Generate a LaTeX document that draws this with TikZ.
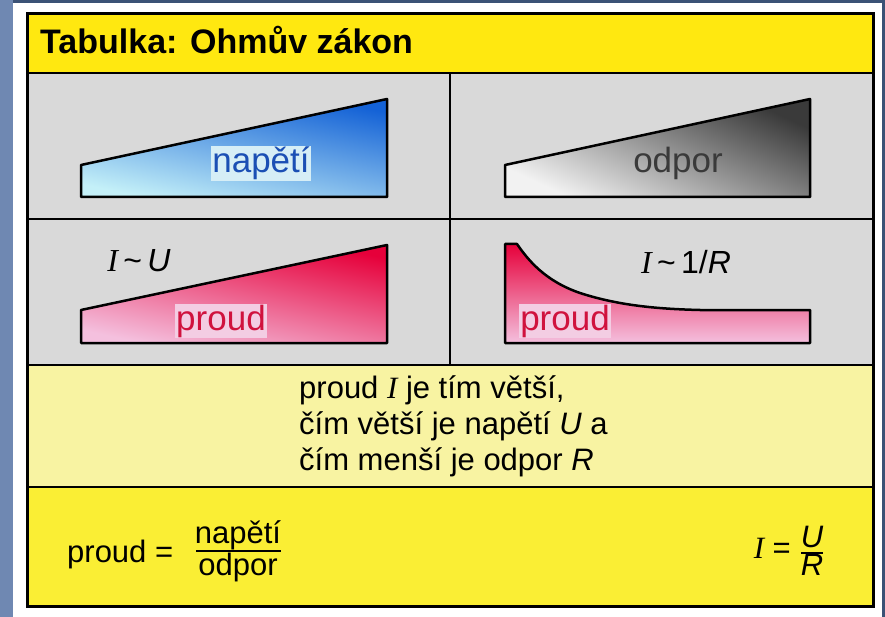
\documentclass[tikz,border=0pt]{standalone}
\usepackage{fontspec}
\setmainfont{Liberation Sans}
\newfontfamily\serifI{Liberation Serif}
\usetikzlibrary{positioning,calc}
\definecolor{PageBlue}{HTML}{6F88B2}
\definecolor{PageNavy}{HTML}{3B5276}
\definecolor{TitleYel}{HTML}{FFE810}
\definecolor{PaleYel}{HTML}{F8F3A2}
\definecolor{FormYel}{HTML}{FAEE34}
\definecolor{CellGray}{HTML}{D9D9D9}
\definecolor{NapDark}{HTML}{1462D6}
\definecolor{NapLight}{HTML}{C4F0F8}
\definecolor{NapText}{HTML}{1B4FB4}
\definecolor{NapPatch}{HTML}{D6EEF6}
\definecolor{OdpDark}{HTML}{3A3A3A}
\definecolor{OdpLight}{HTML}{F2F2F2}
\definecolor{ProDark}{HTML}{E6003A}
\definecolor{ProLight}{HTML}{F4C0DE}
\definecolor{ProText}{HTML}{D0123E}
\definecolor{ProPatch}{HTML}{F3CDE3}
\tikzset{every node/.style={inner sep=1pt},
 frame/.style={draw=black,line width=3pt},
 rule/.style={draw=black,line width=2.5pt},
 wedge/.style={draw=black,line width=2.5pt,line join=round},
 title/.style={font=\fontsize{34}{40}\bfseries\selectfont},
 body/.style={font=\fontsize{31}{37}\selectfont},
 tag/.style={font=\fontsize{35}{40}\selectfont},
 law/.style={font=\fontsize{32}{38}\selectfont},
 fracbar/.style={draw=black,line width=2pt}}
\newcommand{\cI}{{\serifI\itshape I}}
\begin{document}
\begin{tikzpicture}[x=1pt,y=-1pt]
% page
\useasboundingbox (0,0) rectangle (885,617);
\fill[white] (0,0) rectangle (885,617);
\fill[PageBlue] (0,0) rectangle (13,617);
\fill[PageNavy] (13,0) rectangle (885,3);
\fill[PageNavy] (882,0) rectangle (885,617);
% cells
\fill[TitleYel] (27,14) rectangle (873,73);
\fill[CellGray] (27,73) rectangle (873,365);
\fill[PaleYel] (27,365) rectangle (873,487);
\fill[FormYel] (27,487) rectangle (873,606);
\draw[rule] (27,73) -- (873,73);
\draw[rule] (27,219) -- (873,219);
\draw[rule] (27,365) -- (873,365);
\draw[rule] (27,487) -- (873,487);
\draw[rule] (450,73) -- (450,365);
\draw[frame] (27,14) rectangle (873,606);
\node[title,anchor=base west] (head) at (39,54) {Tabulka: Ohmův zákon};
% wedges
\draw[wedge,bottom color=NapLight,top color=NapDark,shading angle=-12]
 (81,197) -- (81,165) -- (387,99) -- (387,197) -- cycle;
\node[tag,text=NapText,fill=NapPatch,anchor=base] (napeti) at (261,173) {napětí};
\draw[wedge,bottom color=OdpLight,top color=OdpDark,shading angle=-25]
 (505,197) -- (505,165) -- (810,99) -- (810,197) -- cycle;
\node[tag,text=OdpDark,anchor=base] (odpor) at (678,173) {odpor};
\draw[wedge,bottom color=ProLight,top color=ProDark,shading angle=-12]
 (81,343) -- (81,310) -- (387,245) -- (387,343) -- cycle;
\node[tag,text=ProText,fill=ProPatch,anchor=base] (proudL) at (221,330) {proud};
\node[law,anchor=base] (propU) at (139,272) {\cI\,\textasciitilde\,{\itshape U}};
\draw[wedge,bottom color=ProLight,top color=ProDark]
 (505,343) -- (505,244) -- (517,244) .. controls (528,260) and (545,281) .. (580,293)
 .. controls (620,306) and (660,309) .. (700,310) -- (810,310) -- (810,343) -- cycle;
\node[tag,text=ProText,fill=ProPatch,anchor=base] (proudR) at (565,330) {proud};
\node[law,anchor=base] (propR) at (686,273) {\cI\,\textasciitilde\,1/{\itshape R}};
% rule in words
\node[body,anchor=base west] (line1) at (298,398) {proud \cI{} je tím větší,};
\node[body,anchor=base west] (line2) at (298,434) {čím větší je napětí {\itshape U} a};
\node[body,anchor=base west] (line3) at (298,470) {čím menší je odpor {\itshape R}};
% formulas
\node[body,anchor=base west] (lhs) at (66,562) {proud =};
\node[body,anchor=base] (num) at (238,543) {napětí};
\node[body,anchor=base] (den) at (238,575) {odpor};
\draw[fracbar] (196,551) -- (281,551);
\node[body,anchor=base east] (lhsI) at (792,558) {\cI{} =};
\node[body,anchor=base] (numU) at (812,547) {\itshape U};
\node[body,anchor=base] (denR) at (812,575) {\itshape R};
\draw[fracbar] (801,553) -- (823,553);
\end{tikzpicture}
\end{document}
